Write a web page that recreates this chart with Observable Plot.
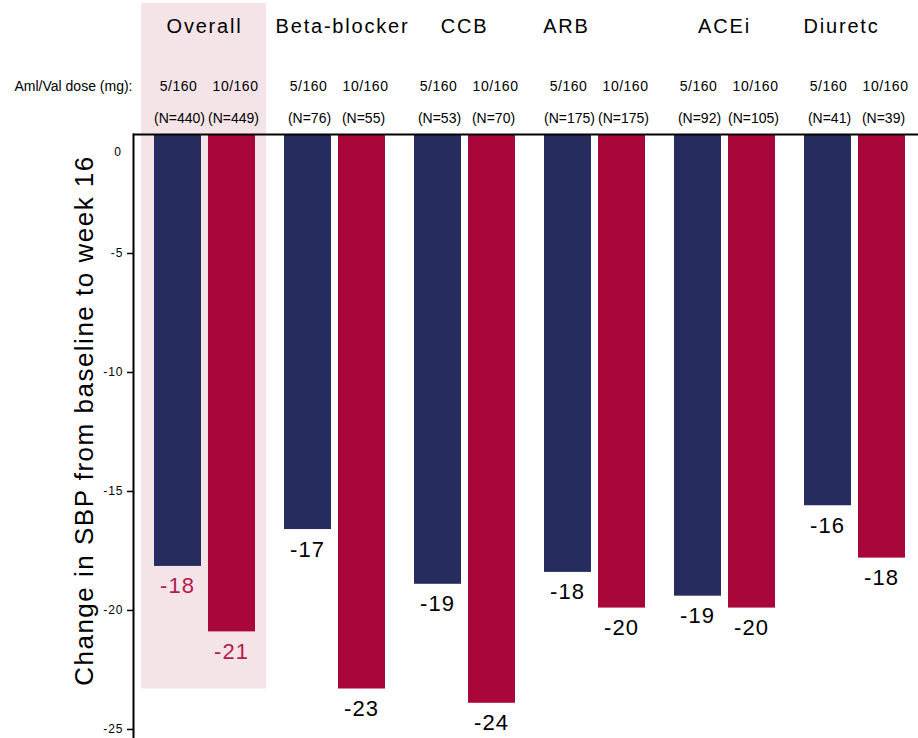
<!DOCTYPE html>
<html>
<head>
<meta charset="utf-8">
<script src="https://cdn.jsdelivr.net/npm/d3@7"></script>
<script src="https://cdn.jsdelivr.net/npm/@observablehq/plot@0.6"></script>
<style>
  html, body { margin: 0; padding: 0; background: #fff; }
  #chart svg { display: block; }
</style>
</head>
<body>
<div id="chart"></div>
<script>
// ---- data ----
const groups = ["Overall", "Beta-blocker", "CCB", "ARB", "ACEi", "Diuretc"];
const doses = ["5/160", "10/160"];
const changeLow = [-18.15, -16.6, -18.9, -18.4, -19.4, -15.6];   // Aml/Val 5/160
const changeHigh = [-20.9, -23.3, -23.9, -19.9, -19.9, -17.8];   // Aml/Val 10/160
const labelLow = [-18, -17, -19, -18, -19, -16];
const labelHigh = [-21, -23, -24, -20, -20, -18];
const nLow = [440, 76, 53, 175, 92, 41];
const nHigh = [449, 55, 70, 175, 105, 39];
const yTicks = [-5, -10, -15, -20, -25];
const doseHeader = "Aml/Val dose (mg):";
const yTitle = "Change in SBP from baseline to week 16";
const highlightGroup = ["Overall"];
const highlightSpan = {top: 5.5, bottom: -23.3};

const rows = [];
groups.forEach((g, i) => {
  rows.push({group: g, dose: doses[0], value: changeLow[i], label: labelLow[i], n: nLow[i]});
  rows.push({group: g, dose: doses[1], value: changeHigh[i], label: labelHigh[i], n: nHigh[i]});
});
const lowRows = rows.filter(d => d.dose === doses[0]);
const highRows = rows.filter(d => d.dose === doses[1]);

const NAVY = "#262c5e", CRIMSON = "#a9063a", PINK = "#f4e4e8", OVERALL_TXT = "#b51b4e";
const FONT = "'Liberation Sans', Arial, sans-serif";
// small horizontal nudges of the group titles (style only)
const titleShift = {"Overall": 0, "Beta-blocker": 8, "CCB": 0, "ARB": -28, "ACEi": 0, "Diuretc": -13};

const labelColor = d => d.group === "Overall" ? OVERALL_TXT : "#000";

const chart = Plot.plot({
  width: 918,
  height: 738,
  marginTop: 134,
  marginLeft: 133,
  marginRight: 0,
  marginBottom: 0,
  style: {fontFamily: FONT, background: "#fff", color: "#000"},
  x: {domain: groups, paddingInner: 0.155, paddingOuter: 0.092, align: 0.625, axis: null},
  y: {domain: [-25.38, 0], axis: null},
  marks: [
    // highlight box behind "Overall"
    Plot.barY(highlightGroup, {x: d => d, y1: highlightSpan.top, y2: highlightSpan.bottom,
      fill: PINK, insetLeft: -8, insetRight: -7}),
    // bars
    Plot.barY(lowRows, {x: "group", y: "value", fill: NAVY, insetLeft: 5, insetRight: 58}),
    Plot.barY(highRows, {x: "group", y: "value", fill: CRIMSON, insetLeft: 59, insetRight: 4}),
    // top baseline and left axis line
    Plot.ruleY([0], {stroke: "#000", strokeWidth: 2}),
    Plot.frame({anchor: "left", stroke: "#000", strokeWidth: 2}),
    // y axis
    Plot.axisY(yTicks, {anchor: "left", label: null, tickSize: 6, tickPadding: 4, fontSize: 12,
      tickFormat: d => String(d), stroke: "#000", strokeWidth: 1.5}),
    Plot.text([0], {y: d => d, frameAnchor: "left", text: d => String(d), dx: -16, dy: 18,
      fontSize: 12, textAnchor: "middle", fill: "#000"}),
    Plot.text([yTitle], {frameAnchor: "left", rotate: -90, dx: -49, dy: -16,
      fontSize: 26, fill: "#000", textAnchor: "middle"}),
    // value labels below bars
    Plot.text(lowRows, {x: "group", y: "value", text: d => String(d.label), dx: -27, dy: 20,
      lineAnchor: "middle", fontSize: 22, fill: labelColor}),
    Plot.text(highRows, {x: "group", y: "value", text: d => String(d.label), dx: 27, dy: 20,
      lineAnchor: "middle", fontSize: 22, fill: labelColor}),
    // header: group titles
    ...groups.map(g => Plot.text([g], {x: d => d, frameAnchor: "top", text: d => d, dy: -108,
      dx: titleShift[g] || 0, lineAnchor: "middle", fontSize: 20, fill: "#000"})),
    // header: dose labels
    Plot.text(lowRows, {x: "group", frameAnchor: "top", text: "dose", dx: -26, dy: -48,
      lineAnchor: "middle", fontSize: 14, fill: "#000"}),
    Plot.text(highRows, {x: "group", frameAnchor: "top", text: "dose", dx: 31, dy: -48,
      lineAnchor: "middle", fontSize: 14, fill: "#000"}),
    // header: N labels
    Plot.text(lowRows, {x: "group", frameAnchor: "top", text: d => `(N=${d.n})`, dx: -25, dy: -16,
      lineAnchor: "middle", fontSize: 14, fill: "#000"}),
    Plot.text(highRows, {x: "group", frameAnchor: "top", text: d => `(N=${d.n})`, dx: 29, dy: -16,
      lineAnchor: "middle", fontSize: 14, fill: "#000"}),
    // dose header label
    Plot.text([doseHeader], {frameAnchor: "top-left", text: d => d, dx: -119, dy: -48,
      textAnchor: "start", lineAnchor: "middle", fontSize: 14, fill: "#000"})
  ]
});
// letter spacing as in the reference typesetting
const sel = d3.select(chart).selectAll("text");
sel.filter(function () { return groups.includes(this.textContent); })
  .style("letter-spacing", "1.8px");
sel.filter(function () { return this.textContent === yTitle; })
  .style("letter-spacing", "1.5px");
sel.filter(function () { return /^-\d+$/.test(this.textContent) && +this.getAttribute("font-size") !== 12; })
  .style("letter-spacing", "1px");
sel.filter(function () { return doses.includes(this.textContent); })
  .style("letter-spacing", "0.5px");
document.getElementById("chart").appendChild(chart);
</script>
</body>
</html>
